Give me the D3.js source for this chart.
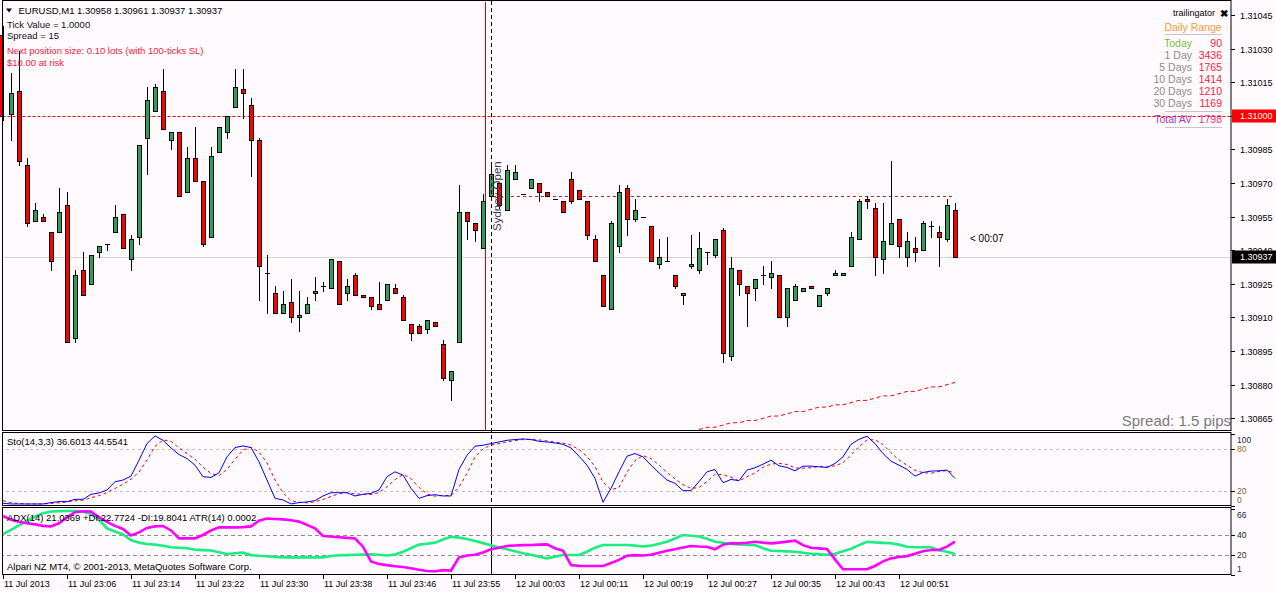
<!DOCTYPE html>
<html><head><meta charset="utf-8">
<script src="https://cdn.jsdelivr.net/npm/d3@7"></script>
<style>body{margin:0;background:#fefafe;overflow:hidden}text{font-family:"Liberation Sans",Arial,sans-serif}</style>
</head><body><svg id="c" width="1276" height="592"></svg>
<script>
// ---------- DATA ----------
const timeLabels = ["11 Jul 2013","11 Jul 23:06","11 Jul 23:14","11 Jul 23:22","11 Jul 23:30","11 Jul 23:38","11 Jul 23:46","11 Jul 23:55","12 Jul 00:03","12 Jul 00:11","12 Jul 00:19","12 Jul 00:27","12 Jul 00:35","12 Jul 00:43","12 Jul 00:51"];
const priceTicks = [1.31045,1.31030,1.31015,1.31000,1.30985,1.30970,1.30955,1.30940,1.30925,1.30910,1.30895,1.30880,1.30865];
const open = [1.31036,1.31001,1.31011,1.30978,1.30953,1.30955,1.30948,1.30948,1.30960,1.30901,1.30931,1.30925,1.30939,1.30943,1.30948,1.30956,1.30936,1.30946,1.30990,1.31002,
1.31011,1.30989,1.30993,1.30966,1.30981,1.30971,1.30946,1.30984,1.30993,1.31004,1.31012,1.31005,1.30989,1.30930,1.30921,1.30912,1.30917,1.30910,1.30912,1.30921,
1.30924,1.30923,1.30935,1.30921,1.30929,1.30920,1.30919,1.30916,1.30918,1.30923,1.30919,1.30907,1.30906,1.30905,1.30908,1.30898,1.30882,1.30899,1.30957,1.30952,
1.30941,1.30964,1.30970,1.30958,1.30972,1.30965,1.30968,1.30970,1.30966,1.30963,1.30962,1.30972,1.30967,1.30962,1.30945,1.30929,1.30914,1.30942,1.30968,1.30954,
1.30955,1.30951,1.30934,1.30935,1.30929,1.30920,1.30933,1.30931,1.30939,1.30938,1.30949,1.30893,1.30931,1.30924,1.30923,1.30929,1.30928,1.30929,1.30910,1.30918,
1.30922,1.30924,1.30915,1.30921,1.30929,1.30929,1.30933,1.30945,1.30963,1.30959,1.30936,1.30943,1.30954,1.30937,1.30941,1.30940,1.30951,1.30948,1.30945,1.30958];
const high = [1.31040,1.31019,1.31029,1.30981,1.30961,1.30956,1.30948,1.30968,1.30966,1.30931,1.30939,1.30938,1.30942,1.30943,1.30960,1.30956,1.30947,1.30987,1.31013,1.31014,
1.31021,1.30993,1.30993,1.30986,1.30995,1.30971,1.30986,1.30995,1.31000,1.31021,1.31021,1.31008,1.30990,1.30938,1.30924,1.30922,1.30927,1.30922,1.30919,1.30928,
1.30926,1.30936,1.30935,1.30927,1.30930,1.30920,1.30919,1.30926,1.30925,1.30925,1.30920,1.30907,1.30907,1.30909,1.30908,1.30900,1.30886,1.30969,1.30957,1.30952,
1.30965,1.30978,1.30970,1.30978,1.30978,1.30965,1.30972,1.30970,1.30966,1.30963,1.30962,1.30975,1.30967,1.30962,1.30947,1.30929,1.30953,1.30969,1.30969,1.30963,
1.30955,1.30951,1.30945,1.30946,1.30929,1.30921,1.30947,1.30948,1.30939,1.30945,1.30950,1.30937,1.30931,1.30924,1.30927,1.30933,1.30935,1.30929,1.30923,1.30925,
1.30923,1.30924,1.30920,1.30923,1.30931,1.30930,1.30948,1.30963,1.30964,1.30961,1.30961,1.30980,1.30954,1.30948,1.30946,1.30953,1.30953,1.30951,1.30963,1.30961];
const low = [1.30998,1.30989,1.30978,1.30951,1.30953,1.30953,1.30931,1.30948,1.30899,1.30899,1.30920,1.30925,1.30937,1.30940,1.30948,1.30941,1.30931,1.30943,1.30974,1.31002,
1.30994,1.30985,1.30964,1.30966,1.30971,1.30942,1.30946,1.30984,1.30990,1.31004,1.30999,1.30973,1.30918,1.30912,1.30912,1.30912,1.30908,1.30904,1.30912,1.30918,
1.30922,1.30923,1.30916,1.30918,1.30920,1.30919,1.30914,1.30914,1.30918,1.30921,1.30909,1.30900,1.30903,1.30903,1.30906,1.30882,1.30873,1.30899,1.30945,1.30944,
1.30941,1.30964,1.30959,1.30958,1.30972,1.30965,1.30968,1.30962,1.30964,1.30963,1.30957,1.30961,1.30963,1.30945,1.30935,1.30915,1.30914,1.30939,1.30947,1.30953,
1.30955,1.30935,1.30932,1.30935,1.30923,1.30916,1.30932,1.30930,1.30934,1.30937,1.30890,1.30891,1.30920,1.30906,1.30918,1.30925,1.30923,1.30910,1.30906,1.30918,
1.30922,1.30923,1.30915,1.30920,1.30929,1.30929,1.30933,1.30945,1.30959,1.30929,1.30930,1.30943,1.30937,1.30933,1.30935,1.30940,1.30946,1.30933,1.30944,1.30937];
const close = [1.31000,1.31010,1.30980,1.30952,1.30958,1.30953,1.30935,1.30957,1.30899,1.30929,1.30920,1.30938,1.30942,1.30943,1.30955,1.30941,1.30945,1.30987,1.31007,1.31013,
1.30994,1.30993,1.30964,1.30981,1.30971,1.30943,1.30982,1.30995,1.31000,1.31013,1.31010,1.30989,1.30933,1.30930,1.30912,1.30916,1.30910,1.30911,1.30916,1.30922,
1.30924,1.30936,1.30916,1.30924,1.30920,1.30919,1.30915,1.30914,1.30925,1.30921,1.30909,1.30903,1.30903,1.30909,1.30906,1.30883,1.30886,1.30957,1.30953,1.30949,
1.30962,1.30974,1.30960,1.30976,1.30975,1.30965,1.30972,1.30966,1.30964,1.30963,1.30957,1.30962,1.30963,1.30947,1.30935,1.30915,1.30952,1.30966,1.30954,1.30958,
1.30955,1.30935,1.30937,1.30935,1.30924,1.30921,1.30934,1.30941,1.30939,1.30945,1.30894,1.30932,1.30925,1.30921,1.30927,1.30929,1.30930,1.30910,1.30923,1.30924,
1.30923,1.30923,1.30920,1.30923,1.30930,1.30930,1.30946,1.30962,1.30962,1.30937,1.30944,1.30952,1.30942,1.30944,1.30939,1.30952,1.30951,1.30946,1.30960,1.30937];
// moving average (red dashed), starting at bar 87
const maStart = 87;
const maValues = [1.30860,1.30861,1.30861,1.30862,1.30863,1.30863,1.30864,1.30864,1.30865,1.30866,1.30866,1.30867,1.30868,1.30868,1.30869,1.30870,1.30870,1.30871,1.30871,1.30872,1.30873,1.30873,1.30874,1.30875,1.30875,1.30876,1.30877,1.30877,1.30878,1.30879,1.30879,1.30880,1.30881];
const stochMain = [3.3,2.3,2.3,2.3,2.3,2.3,4.2,5.6,5.6,8.8,8.8,15.8,17.7,21.9,33.5,35.8,41.4,63.7,87,97.7,
91.6,80.9,71.6,66,56.7,40.5,39.5,46,68.4,81.4,83.7,81.4,61.4,35.8,10.2,7.9,2.3,4.2,5.1,7,
13.5,18.1,18.1,18.1,13.5,15.8,17.2,21.9,40.5,47.4,42.8,24.2,10.2,14,15.3,13.5,13.5,50.7,70.7,83.3,
84.7,87,89.3,91.6,92.6,93.5,92.6,90.2,89.3,87.9,86,80.9,69.3,56.7,38.1,4.7,24.2,47.4,69.3,73,
68.4,56.7,46,35.8,31.2,20.9,20.9,33.5,47.4,50.7,32.1,36.7,34.9,49.8,53,58.1,63.7,55.8,53.5,48.8,
55.3,55.3,54.4,53.5,59.1,68.4,86,93,97.2,87,73,62.3,56.7,50.7,41.4,46.5,48.4,48.8,49.8,38.1];
const stochSignal = [7,4,3,2.3,2.3,2.3,3,4,5,6.7,7.7,11,14,18.5,24,30,37,47,64,83,
92,90,81,73,65,54,45,42,51,65,78,82,75,60,36,18,7,4.8,3.9,5.4,
8.5,12.9,16.6,18.1,16.6,15.8,15.5,18.3,26.5,36.6,43.6,38,25.7,16.1,13.2,14.3,14.1,25.9,45,68.2,
79.6,85,87,89.3,91.2,92.6,92.9,92.1,90.7,89.1,87.7,84.9,78.7,68.9,54.7,33.2,22.3,25.4,47,63.2,
70.2,66,57,46.2,37.7,29.3,24.3,25.1,33.9,43.9,43.4,39.8,34.6,40.5,45.9,53.6,58.3,59.2,57.7,52.7,
52.5,53.1,55,54.4,55.7,60.3,71.2,82.5,92.1,92.4,85.7,74.1,64,56.6,49.6,46.2,45.4,47.9,49,45.6];
const adxGreen = [41,45,49.5,54,58,61.5,63.2,63.5,63.6,63.6,63,60.8,55,46.6,43.5,40.5,35,32.5,31.1,30.5,
29.5,27.9,27.4,26.9,25.6,25.1,24.7,23,21.3,22,22.6,20.2,19.5,19,18.5,18,18,18,18,18,
18,19.4,20,20.2,20.5,20.7,21,20.5,19.8,20.8,23.5,27,30.5,31.3,32.5,35.5,38.3,37.4,36,34,
32,29.8,27.6,25.9,24,22,20.5,18.7,17,18.5,20.3,20.3,20.3,23.5,27.5,30.2,30.2,30.2,30.2,29.5,
28.7,29.5,31.4,33.4,36.5,40,39.3,38.5,36.3,33.4,32.3,31.3,30.7,30.4,30,27,24.5,24.2,23.9,23.5,
22.5,21.5,21,20.5,21.5,24,26.5,30,33.4,32.7,32.2,31.8,30.5,28.5,27.9,27.9,28,25,23.6,21.3];
const adxMagenta = [58.7,55,53,51.5,50.5,49,48.5,51.5,57.4,62.5,63.4,63,57.4,53,49,45.9,39.5,42.6,47,48.5,
48.9,44.5,36.7,36.7,36.7,40,44.5,47.5,47.5,47.5,47.8,48.5,54,56.3,55.8,55.4,54.5,53.2,50,46.5,
39,38.5,37.8,37.2,36.5,28.5,14,11.5,10.3,9.3,8.5,7.2,5.7,4.5,4.3,5.4,5,18,19.8,20.5,
22.8,25.9,27.5,29.2,29.6,30,30.2,30.5,30.8,27,24.6,10.5,9.6,9.5,9.5,9.5,12.5,15.5,19.5,20.2,
19.8,20.5,22.6,24.5,26,27.7,29.2,28.7,28.5,26,30.5,31.8,31.8,32.3,33.4,32.5,31.8,32.5,33.5,34.4,
30,27.5,26.8,26.2,16,6.2,6.2,6.2,6.2,9.5,14,17,18.3,19.2,21.5,24,25.2,25.2,28.5,33.4];
const stochLevels = [100,80,20,0];
const adxLevels = [66,40,20,1];
const sessionBar = 61;           // Sydney Open marker
const roundLevel = 1.31000;
const bidPrice = 1.30937;
const resistLevel = 1.30964;
const rangeLabels = ["Today","1 Day","5 Days","10 Days","20 Days","30 Days"];
const rangeValues = ["90","3436","1765","1414","1210","1169"];

// ---------- DRAW ----------
const svg = d3.select("#c");
const BG = "#fefafe";
const XR = 1231, XL = 2.5;
const P = {main:[0.5,430.5], sto:[432.5,505.5], adx:[507.5,574.5]};
svg.append("rect").attr("width",1276).attr("height",592).attr("fill",BG);
const defs = svg.append("defs");
defs.append("clipPath").attr("id","cm").append("rect").attr("x",-5).attr("y",1).attr("width",XR+5).attr("height",429);
defs.append("clipPath").attr("id","cs").append("rect").attr("x",3).attr("y",433).attr("width",XR-3).attr("height",72);
defs.append("clipPath").attr("id","ca").append("rect").attr("x",3).attr("y",508).attr("width",XR-3).attr("height",66);

const x = d3.scaleLinear().domain([0,119]).range([3,955]);
const y = d3.scaleLinear().domain([1.30865,1.31045]).range([418.3,15]);
const ys = d3.scaleLinear().domain([0,100]).range([505.6,434.3]);
const ya = d3.scaleLinear().domain([1,66]).range([574.6,508.6]);

// main panel
const gm = svg.append("g").attr("clip-path","url(#cm)");
gm.append("line").attr("x1",XL).attr("x2",XR).attr("y1",Math.round(y(bidPrice))+0.5).attr("y2",Math.round(y(bidPrice))+0.5).attr("stroke","#d4d4d4");
gm.append("line").attr("x1",XL).attr("x2",XR).attr("y1",Math.round(y(roundLevel))+0.5).attr("y2",Math.round(y(roundLevel))+0.5)
  .attr("stroke","#ff0000").attr("stroke-dasharray","3,2");
gm.append("line").attr("x1",x(sessionBar)+2).attr("x2",x(119)).attr("y1",Math.round(y(resistLevel))+0.5).attr("y2",Math.round(y(resistLevel))+0.5)
  .attr("stroke","#cc1f1f").attr("stroke-dasharray","3,3");
gm.append("path").datum(maValues).attr("fill","none").attr("stroke","#ff0000").attr("stroke-dasharray","4,3")
  .attr("d",d3.line().x((d,i)=>x(maStart+i)).y(d=>y(d)));
// vertical session lines
const sx = Math.round(x(sessionBar));
gm.append("line").attr("x1",sx-5.5).attr("x2",sx-5.5).attr("y1",2).attr("y2",431).attr("stroke","#e00000");
svg.append("line").attr("x1",sx+0.5).attr("x2",sx+0.5).attr("y1",1).attr("y2",505)
  .attr("stroke","#000").attr("stroke-dasharray","4,3");
svg.append("line").attr("x1",sx+0.5).attr("x2",sx+0.5).attr("y1",507).attr("y2",575).attr("stroke","#000");

// candles
d3.range(open.length).forEach(i=>{
  const cx = i === 0 ? 0 : Math.round(x(i));
  const wx = Math.round(x(i));
  gm.append("line").attr("x1",wx+0.5).attr("x2",wx+0.5).attr("y1",Math.round(y(high[i]))).attr("y2",Math.round(y(low[i]))+1).attr("stroke","#000");
  const t = Math.round(Math.min(y(open[i]),y(close[i]))), b = Math.round(Math.max(y(open[i]),y(close[i])));
  if (b - t < 1) {
    gm.append("line").attr("x1",cx-2).attr("x2",cx+3).attr("y1",t+0.5).attr("y2",t+0.5).attr("stroke","#000");
  } else {
    gm.append("rect").attr("x",cx-1.5).attr("y",t+0.5).attr("width",4).attr("height",b-t)
      .attr("fill", close[i]>=open[i] ? "#2e9f5b" : "#ff0000").attr("stroke","#000");
  }
});

// session label
svg.append("text").attr("transform",`translate(${sx+10},231) rotate(-90)`)
  .attr("font-size","11.5px").attr("fill","#3a3a5a").text("Sydney Open");
svg.append("text").attr("x",970).attr("y",242).attr("font-size","10px").attr("fill","#000").text("<  00:07");
svg.append("text").attr("x",1231).attr("y",426).attr("text-anchor","end").attr("font-size","15px").attr("fill","#7a7a7a").text("Spread: 1.5 pips");

// top-left info
svg.append("path").attr("d","M6,8.5 L12,8.5 L9,12.5 Z").attr("fill","#000");
const info = [
  {t:"EURUSD,M1  1.30958 1.30961 1.30937 1.30937", x:18.5, y:14, c:"#000"},
  {t:"Tick Value = 1.0000", x:7, y:27.5, c:"#111"},
  {t:"Spread = 15", x:7, y:38.5, c:"#111"},
  {t:"Next position size: 0.10 lots (with 100-ticks SL)", x:7, y:54, c:"#f41a3a"},
  {t:"$10.00 at risk", x:7, y:66, c:"#f41a3a"}
];
info.forEach(d=>svg.append("text").attr("x",d.x).attr("y",d.y).attr("font-size","9.5px").attr("fill",d.c).text(d.t));

// trailingator panel
svg.append("text").attr("x",1215).attr("y",16).attr("text-anchor","end").attr("font-size","9px").attr("fill","#000").text("trailingator");
svg.append("text").attr("x",1224).attr("y",16.5).attr("text-anchor","middle").attr("font-size","10px").attr("font-weight","bold").attr("fill","#000").text("✖");
svg.append("text").attr("x",1193).attr("y",30.5).attr("text-anchor","middle").attr("font-size","10.5px").attr("fill","#f79a3a").text("Daily Range");
[34,111,127].forEach(yy=>svg.append("line").attr("x1",1165).attr("x2",1222).attr("y1",yy+0.5).attr("y2",yy+0.5).attr("stroke","#c4c4c4"));
rangeLabels.forEach((l,i)=>{
  const yy = 47 + i*12;
  svg.append("text").attr("x",1192).attr("y",yy).attr("text-anchor","end").attr("font-size","10.5px")
    .attr("fill", i===0 ? "#77c043" : "#8a8a8a").text(l);
  svg.append("text").attr("x",1222).attr("y",yy).attr("text-anchor","end").attr("font-size","10.5px").attr("fill","#ff1a3a").text(rangeValues[i]);
});
svg.append("text").attr("x",1192).attr("y",123).attr("text-anchor","end").attr("font-size","10.5px").attr("fill","#9a3ad0").text("Total AV");
svg.append("text").attr("x",1222).attr("y",123).attr("text-anchor","end").attr("font-size","10.5px").attr("fill","#f0307a").text("1798");

// stochastic panel
const gs = svg.append("g").attr("clip-path","url(#cs)");
[80,20].forEach(v=>gs.append("line").attr("x1",0).attr("x2",XR).attr("y1",Math.round(ys(v))+0.5).attr("y2",Math.round(ys(v))+0.5)
  .attr("stroke","#c0c0c0").attr("stroke-dasharray","3,3"));
gs.append("path").datum(stochSignal).attr("fill","none").attr("stroke","#ff0000").attr("stroke-dasharray","3,3")
  .attr("d",d3.line().x((d,i)=>x(i)).y(d=>ys(d)));
gs.append("path").datum(stochMain).attr("fill","none").attr("stroke","#0000ff")
  .attr("d",d3.line().x((d,i)=>x(i)).y(d=>ys(d)));
svg.append("text").attr("x",7).attr("y",445).attr("font-size","9.5px").attr("fill","#000").text("Sto(14,3,3) 36.6013 44.5541");

// ADX panel
const ga = svg.append("g").attr("clip-path","url(#ca)");
[40,20].forEach(v=>ga.append("line").attr("x1",0).attr("x2",XR).attr("y1",Math.round(ya(v))+0.5).attr("y2",Math.round(ya(v))+0.5)
  .attr("stroke","#8c8c8c").attr("stroke-dasharray","4,3"));
ga.append("path").datum(adxGreen).attr("fill","none").attr("stroke","#1aee80").attr("stroke-width",2.6)
  .attr("d",d3.line().x((d,i)=>x(i)).y(d=>ya(d)));
ga.append("path").datum(adxMagenta).attr("fill","none").attr("stroke","#ff00ff").attr("stroke-width",2.6)
  .attr("d",d3.line().x((d,i)=>x(i)).y(d=>ya(d)));
svg.append("text").attr("x",7).attr("y",521).attr("font-size","9.5px").attr("fill","#000").text("ADX(14) 21.0369 +DI:22.7724 -DI:19.8041  ATR(14) 0.0002");
svg.append("text").attr("x",7).attr("y",570).attr("font-size","9.5px").attr("fill","#000").text("Alpari NZ MT4, © 2001-2013, MetaQuotes Software Corp.");

// panel frames
Object.values(P).forEach(([a,b])=>svg.append("rect").attr("x",XL).attr("y",a).attr("width",XR-XL).attr("height",b-a)
  .attr("fill","none").attr("stroke","#000"));

// price axis
priceTicks.forEach(p=>{
  const yy = Math.round(y(p))+0.5;
  svg.append("line").attr("x1",XR).attr("x2",XR+4).attr("y1",yy).attr("y2",yy).attr("stroke","#000");
  svg.append("text").attr("x",1240).attr("y",yy+3.5).attr("font-size","9px").attr("fill","#000").text(p.toFixed(5));
});
function tag(p, fill){
  const yy = y(p);
  svg.append("rect").attr("x",XR+1).attr("y",Math.round(yy)-6.5).attr("width",44).attr("height",13).attr("fill",fill);
  svg.append("text").attr("x",1240).attr("y",yy+3.5).attr("font-size","9px").attr("fill","#fff").text(p.toFixed(5));
}
tag(roundLevel,"#ff0000");
tag(bidPrice,"#000");

// indicator axes
function indAxis(levels, sc, top, bot, colors){
  levels.forEach((v,i)=>{
    const yr = Math.round(sc(v))+0.5;
    svg.append("line").attr("x1",XR).attr("x2",XR+4).attr("y1",yr).attr("y2",yr).attr("stroke","#000");
    const yt = Math.max(top+7, Math.min(bot-5.5, sc(v)));
    svg.append("text").attr("x",1237).attr("y",yt+3).attr("font-size","8.5px").attr("fill",colors[i]).text(v);
  });
}
indAxis(stochLevels, ys, 432.5, 505.5, ["#1a2a4a","#a07018","#806030","#806030"]);
indAxis(adxLevels, ya, 507.5, 574.5, ["#1a2a4a","#222","#3a2a1a","#1a2a4a"]);

// time axis
timeLabels.forEach((t,j)=>{
  const xx = Math.round(x(j*8))+0.5;
  svg.append("line").attr("x1",xx).attr("x2",xx).attr("y1",574).attr("y2",579).attr("stroke","#000");
  svg.append("text").attr("x",xx+0.5).attr("y",587).attr("font-size","9px").attr("fill","#000").text(t);
});
</script></body></html>
